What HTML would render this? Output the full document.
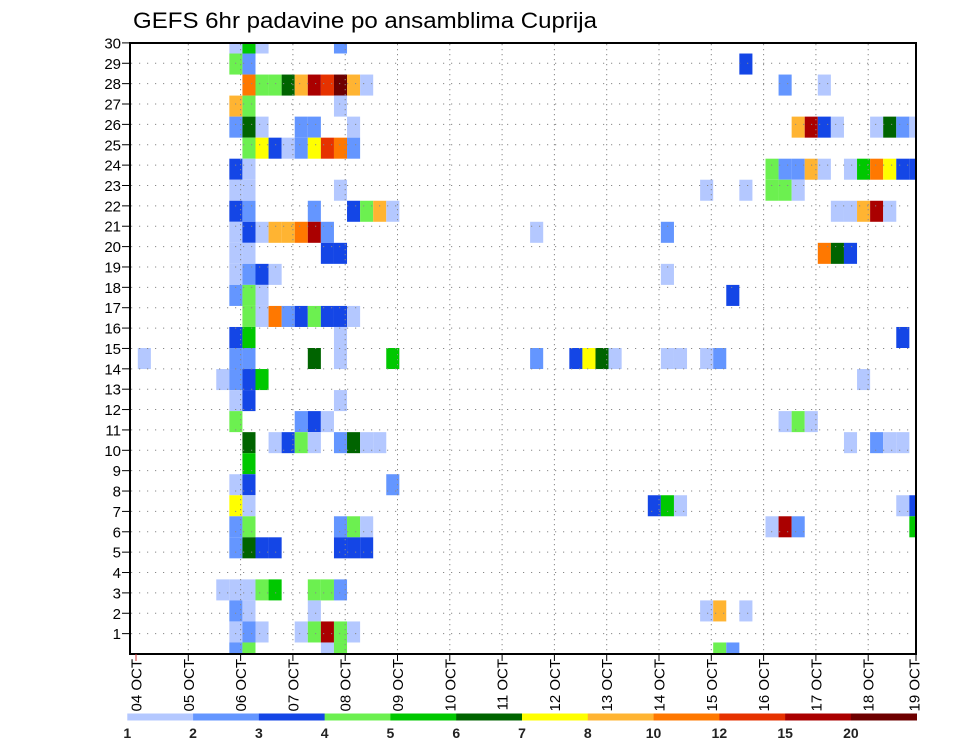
<!DOCTYPE html>
<html><head><meta charset="utf-8"><title>GEFS 6hr padavine</title>
<style>html,body{margin:0;padding:0;background:#fff}svg{display:block;font-family:"Liberation Sans",sans-serif}</style>
</head><body>
<svg id="chart" width="960" height="742" viewBox="0 0 960 742" xmlns="http://www.w3.org/2000/svg">
<text x="133" y="28" font-size="22" textLength="464" lengthAdjust="spacingAndGlyphs">GEFS 6hr padavine po ansamblima Cuprija</text>
<defs><clipPath id="plotclip"><rect x="130" y="43" width="786" height="611"/></clipPath></defs>
<g id="cells" clip-path="url(#plotclip)"></g>
<g id="grid"></g>
<rect x="130" y="43" width="786" height="611" fill="none" stroke="#000" stroke-width="2"/>
<g id="yaxis"></g>
<g id="xaxis"></g>
<g id="legend"></g>
</svg>
<script>
const dayLabels = ["04 OCT","05 OCT","06 OCT","07 OCT","08 OCT","09 OCT","10 OCT","11 OCT","12 OCT","13 OCT","14 OCT","15 OCT","16 OCT","17 OCT","18 OCT","19 OCT"];
const memberLabels = [1,2,3,4,5,6,7,8,9,10,11,12,13,14,15,16,17,18,19,20,21,22,23,24,25,26,27,28,29,30];
const levelLabels = ["1","2","3","4","5","6","7","8","10","12","15","20"];
const levelColors = ["#b4c8ff","#6496ff","#1446e6","#6cf050","#00c800","#006400","#ffff00","#ffb432","#ff7800","#e63200","#aa0000","#6e0000"];
// [member row, 6-hr step index, precip class index]
const cellData = [
[30,7,0],[30,8,4],[30,9,0],[30,15,1],
[29,7,3],[29,8,1],[29,46,2],
[28,8,8],[28,9,3],[28,10,3],[28,11,5],[28,12,7],[28,13,10],[28,14,9],[28,15,11],[28,16,7],[28,17,0],[28,49,1],[28,52,0],
[27,7,7],[27,8,3],[27,15,0],
[26,7,1],[26,8,5],[26,9,0],[26,12,1],[26,13,1],[26,16,0],[26,50,7],[26,51,10],[26,52,2],[26,53,0],[26,56,0],[26,57,5],[26,58,1],[26,59,0],
[25,8,3],[25,9,6],[25,10,2],[25,11,0],[25,12,1],[25,13,6],[25,14,9],[25,15,8],[25,16,1],
[24,7,2],[24,8,0],[24,48,3],[24,49,1],[24,50,1],[24,51,7],[24,52,0],[24,54,0],[24,55,4],[24,56,8],[24,57,6],[24,58,2],[24,59,2],
[23,7,0],[23,8,0],[23,15,0],[23,43,0],[23,46,0],[23,48,3],[23,49,3],[23,50,0],
[22,7,2],[22,8,1],[22,13,1],[22,16,2],[22,17,3],[22,18,7],[22,19,0],[22,53,0],[22,54,0],[22,55,7],[22,56,10],[22,57,0],
[21,7,0],[21,8,2],[21,9,0],[21,10,7],[21,11,7],[21,12,8],[21,13,10],[21,14,1],[21,30,0],[21,40,1],
[20,7,0],[20,8,0],[20,14,2],[20,15,2],[20,52,8],[20,53,5],[20,54,2],
[19,7,0],[19,8,1],[19,9,2],[19,10,0],[19,40,0],
[18,7,1],[18,8,3],[18,9,0],[18,45,2],
[17,8,3],[17,9,0],[17,10,8],[17,11,1],[17,12,2],[17,13,3],[17,14,2],[17,15,2],[17,16,0],
[16,7,2],[16,8,4],[16,15,0],[16,58,2],
[15,0,0],[15,7,1],[15,8,1],[15,13,5],[15,15,0],[15,19,4],[15,30,1],[15,33,2],[15,34,6],[15,35,5],[15,36,0],[15,40,0],[15,41,0],[15,43,0],[15,44,1],
[14,6,0],[14,7,1],[14,8,2],[14,9,4],[14,55,0],
[13,7,0],[13,8,2],[13,15,0],
[12,7,3],[12,12,1],[12,13,2],[12,14,0],[12,49,0],[12,50,3],[12,51,0],
[11,8,5],[11,10,0],[11,11,2],[11,12,3],[11,13,0],[11,15,1],[11,16,5],[11,17,0],[11,18,0],[11,54,0],[11,56,1],[11,57,0],[11,58,0],
[10,8,4],
[9,7,0],[9,8,2],[9,19,1],
[8,7,6],[8,8,0],[8,39,2],[8,40,4],[8,41,0],[8,58,0],[8,59,2],
[7,7,1],[7,8,3],[7,15,1],[7,16,3],[7,17,0],[7,48,0],[7,49,10],[7,50,1],[7,59,4],
[6,7,1],[6,8,5],[6,9,2],[6,10,2],[6,15,2],[6,16,2],[6,17,2],
[4,6,0],[4,7,0],[4,8,0],[4,9,3],[4,10,4],[4,13,3],[4,14,3],[4,15,1],
[3,7,1],[3,8,0],[3,13,0],[3,43,0],[3,44,7],[3,46,0],
[2,7,0],[2,8,1],[2,9,0],[2,12,0],[2,13,3],[2,14,10],[2,15,3],[2,16,0],
[1,7,1],[1,8,3],[1,14,0],[1,15,3],[1,44,3],[1,45,1]
];

const NS = "http://www.w3.org/2000/svg";
function mk(tag, attrs, parent){const e=document.createElementNS(NS,tag);for(const k in attrs)e.setAttribute(k,attrs[k]);parent.appendChild(e);return e;}
// scales
const stepW = 13.077;
const cellX = s => 137.8 + s*stepW;
const rowH = 610/29;
const cellY = m => 43 + (30-m)*rowH;   // center
const labelY = r => 654 - r*20.37;
const dayX = d => Math.min(136 + d*52.3, 916);

const cg = document.getElementById('cells');
cellData.forEach(([m,s,k])=>{
  const r = mk('rect',{x:cellX(s).toFixed(2),y:(cellY(m)-rowH/2).toFixed(2),width:stepW.toFixed(2),height:rowH.toFixed(2),fill:levelColors[k]},cg);
  
  
});

const gg = document.getElementById('grid');
memberLabels.forEach(r=>{
  const y = labelY(r);
  const l = mk('line',{x1:131,x2:915,y1:y,y2:y,stroke:"#888","stroke-width":1,"stroke-dasharray":"1.2,6.8"},gg);
  
  
});
dayLabels.forEach((t,d)=>{
  const x = dayX(d);
  if (d>0 && d<15){
    const l = mk('line',{x1:x,x2:x,y1:44,y2:653,stroke:"#888","stroke-width":1,"stroke-dasharray":"1.2,3.8"},gg);
    
    
  }
});

const ya = document.getElementById('yaxis');
memberLabels.forEach(r=>{
  const y = labelY(r);
  const tk = mk('line',{x1:122,x2:131,y1:y,y2:y,stroke:"#000","stroke-width":1},ya);
  
  
  const t = mk('text',{x:121,y:y+5.5,"font-size":15,"text-anchor":"end"},ya);
  t.textContent = r;
  
  
});

const xa = document.getElementById('xaxis');
dayLabels.forEach((lab,d)=>{
  const x = dayX(d);
  const tk = mk('line',{x1:x,x2:x,y1:654,y2:661,stroke:d===0?"#c33":"#000","stroke-width":1},xa);
  
  
  const lx = d===15 ? 914 : x;
  const t = mk('text',{x:0,y:0,"font-size":15,"text-anchor":"end",transform:`translate(${lx+5.5},${659}) rotate(-90)`},xa);
  t.textContent = lab;
  
  
});

const lg = document.getElementById('legend');
const segW = (916.7-127.3)/levelColors.length;
levelColors.forEach((c,i)=>{
  const r = mk('rect',{x:127.3+i*segW,y:713.5,width:segW+0.3,height:7,fill:c},lg);
  
  
});
levelLabels.forEach((lab,i)=>{
  const t = mk('text',{x:127.3+i*segW,y:738,"font-size":14,"font-weight":"bold","text-anchor":"middle",fill:"#222"},lg);
  t.textContent = lab;
  
  
});
</script>
</body></html>
